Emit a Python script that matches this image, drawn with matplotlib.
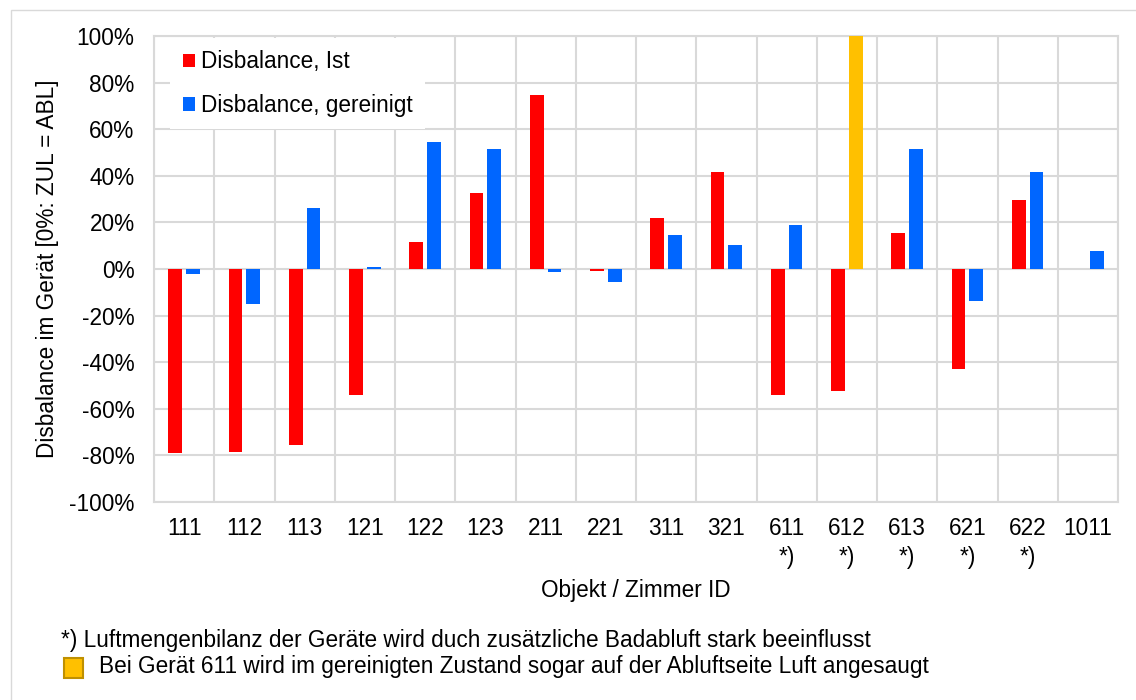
import numpy as np
import matplotlib
matplotlib.use("Agg")
import matplotlib.pyplot as plt
from matplotlib.patches import Patch, Rectangle
from matplotlib.ticker import FuncFormatter, MultipleLocator

# Data (percent)
rooms = ["111", "112", "113", "121", "122", "123", "211", "221",
         "311", "321", "611\n*)", "612\n*)", "613\n*)", "621\n*)", "622\n*)", "1011"]
ist = [-79, -78.5, -75.5, -54, 11.5, 32.7, 74.8, -0.7,
       22, 41.6, -54.2, -52.4, 15.6, -43, 29.7, 0]
gereinigt = [-2, -15, 26.2, 0.9, 54.6, 51.6, -1.5, -5.7,
             14.4, 10.3, 19, 100, 51.6, -13.8, 41.6, 7.8]
# 612: special case (yellow marked bar)
special = "612\n*)"

RED = "#FF0000"
BLUE = "#0066FF"
YELLOW = "#FFC000"
GRID = "#D9D9D9"
FS = 16.3

plt.rcParams['font.family'] = ['Liberation Sans', 'DejaVu Sans']

fig = plt.figure(figsize=(11.36, 7.0), dpi=100)
ax = fig.add_axes([154 / 1136, 1 - 502 / 700, 964 / 1136, 466 / 700])

x = np.arange(len(rooms))
w = 0.225
off = 0.147
blue_cols = [YELLOW if r == special else BLUE for r in rooms]

ax.bar(x - off, ist, width=w, color=RED, zorder=3)
ax.bar(x + off, gereinigt, width=w, color=blue_cols, zorder=3)

ax.set_xlim(-0.5, len(rooms) - 0.5)
ax.set_ylim(-100, 100)
ax.yaxis.set_major_locator(MultipleLocator(20))
ax.yaxis.set_major_formatter(FuncFormatter(lambda v, p: f"{v:.0f}%"))
ax.set_xticks(x)
ax.set_xticklabels(rooms, linespacing=1.3)
ax.set_xticks(np.arange(len(rooms) + 1) - 0.5, minor=True)

ax.grid(True, axis="y", which="major", color=GRID, lw=1.5, zorder=0)
ax.grid(True, axis="x", which="minor", color=GRID, lw=1.5, zorder=0)
ax.tick_params(axis="both", which="both", length=0, labelsize=FS)
ax.tick_params(axis="y", pad=14)
ax.tick_params(axis="x", pad=11)
for s in ax.spines.values():
    s.set_color(GRID)
    s.set_linewidth(1.5)

ax.set_xlabel("Objekt / Zimmer ID", fontsize=FS)
ax.xaxis.set_label_coords(0.5, -0.189)
ax.xaxis.label.set_va("center")
ax.set_ylabel("Disbalance im Gerät [0%: ZUL = ABL]", fontsize=FS)
ax.yaxis.set_label_coords(-0.110, 0.5)
ax.yaxis.label.set_va("center")

handles = [Patch(facecolor=RED, label="Disbalance, Ist"),
           Patch(facecolor=BLUE, label="Disbalance, gereinigt")]
leg = ax.legend(handles=handles, loc="upper left", bbox_to_anchor=(0.0171, 0.9957),
                fontsize=FS, frameon=True, facecolor="white", edgecolor="none",
                framealpha=1, fancybox=False, handlelength=0.55, handleheight=0.55,
                handletextpad=0.25, labelspacing=0.9, borderpad=0.55, borderaxespad=0)
leg.set_zorder(5)

# footnotes
fig.text(61 / 1136, 1 - 641 / 700,
         "*) Luftmengenbilanz der Geräte wird duch zusätzliche Badabluft stark beeinflusst",
         fontsize=FS, va="center", ha="left")
fig.add_artist(Rectangle((64 / 1136, 1 - 678 / 700), 19 / 1136, 20 / 700,
                         transform=fig.transFigure, facecolor=YELLOW,
                         edgecolor="#BF9000", lw=1.5))
fig.text(99 / 1136, 1 - 667 / 700,
         "Bei Gerät 611 wird im gereinigten Zustand sogar auf der Abluftseite Luft angesaugt",
         fontsize=FS, va="center", ha="left")

# outer chart border
fig.add_artist(Rectangle((10.5 / 1136, -0.1), 1.2, 1.1 - 10.5 / 700,
                         transform=fig.transFigure, facecolor="none",
                         edgecolor=GRID, lw=1))

fig.savefig("out.png", dpi=100)
